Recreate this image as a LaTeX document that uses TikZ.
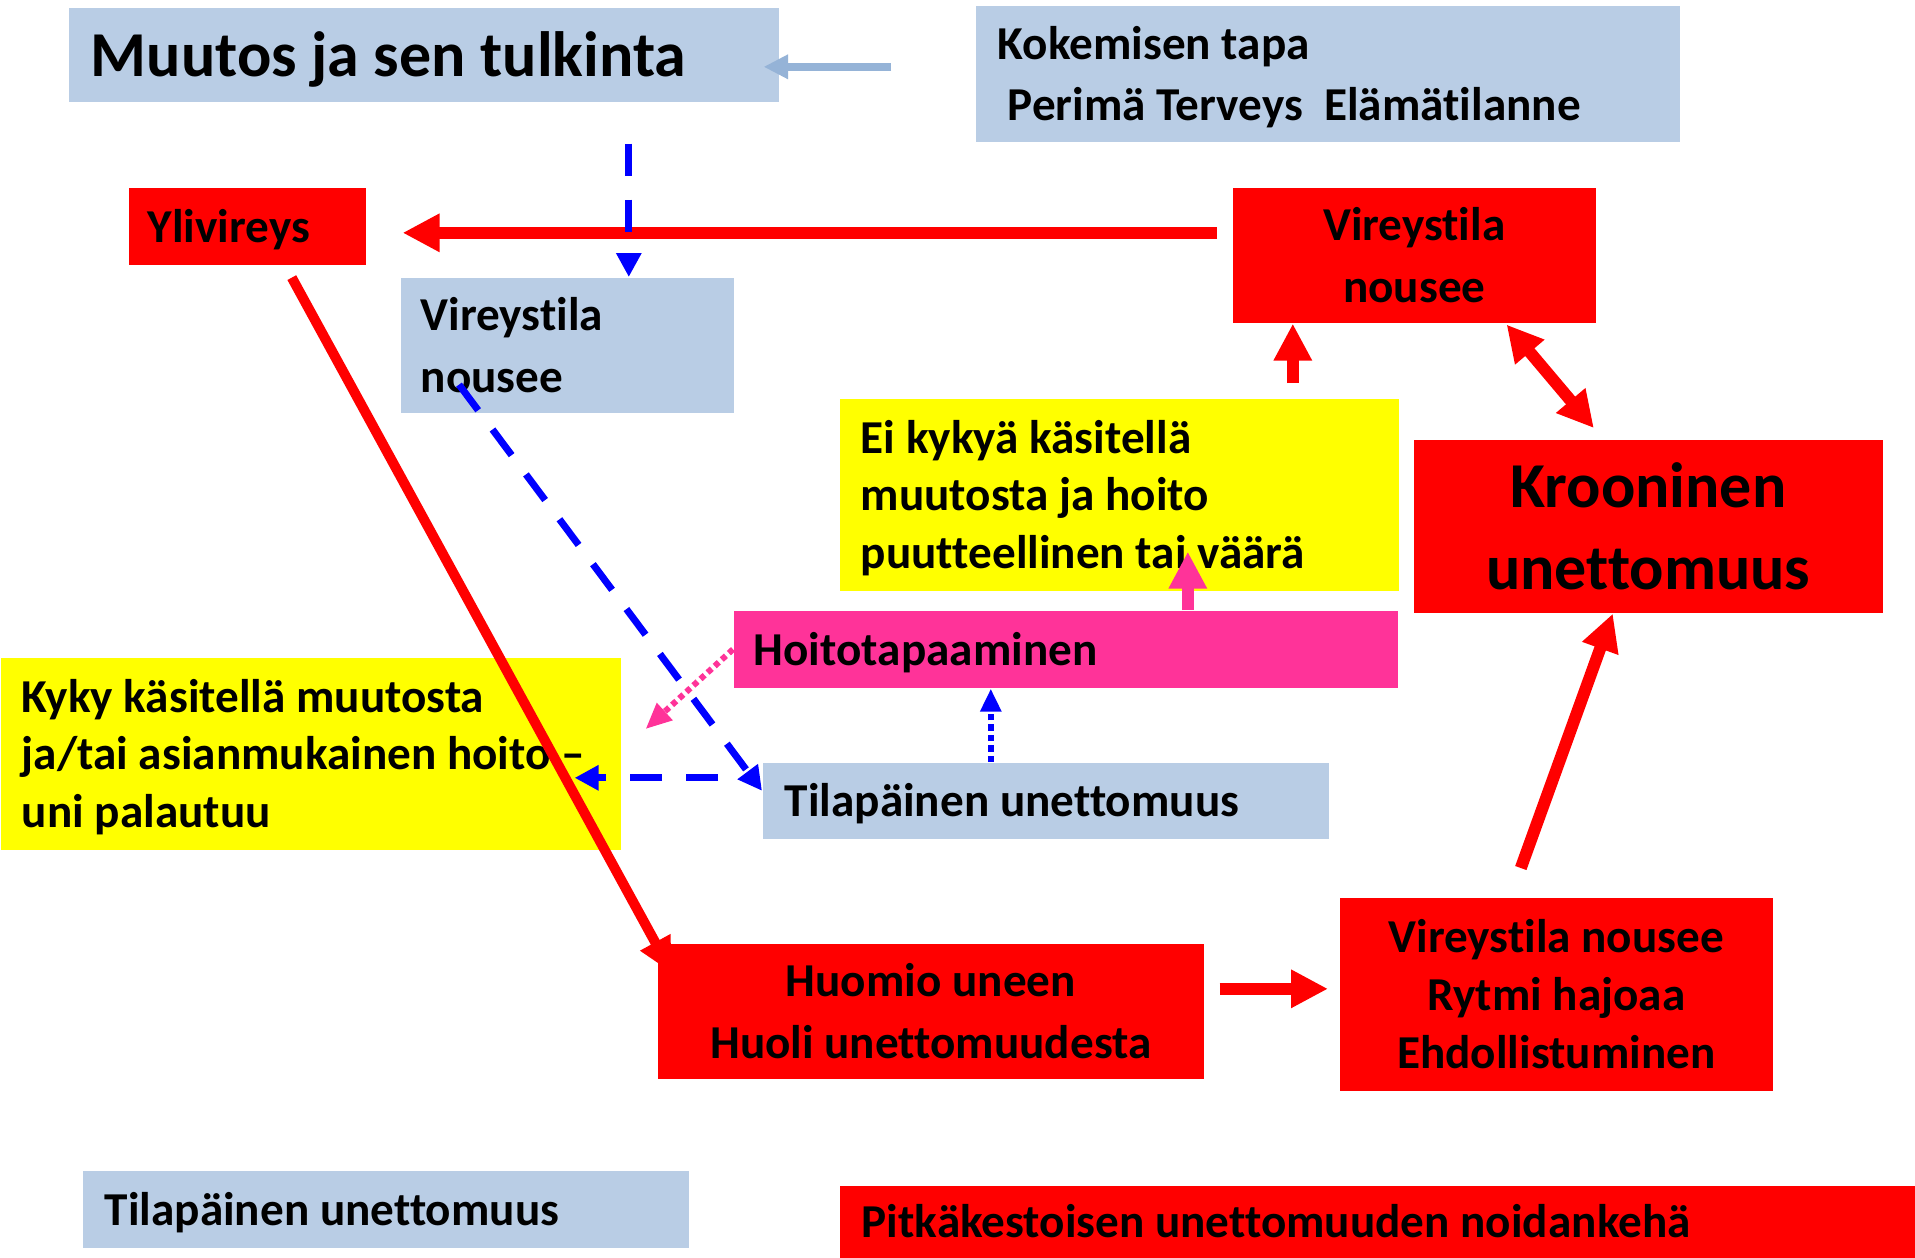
\documentclass[tikz,border=0pt]{standalone}
\usepackage{fontspec}
\setmainfont{Carlito}[Ligatures=NoCommon]
\usetikzlibrary{arrows.meta,calc}
\definecolor{lblue}{HTML}{B9CDE5}
\definecolor{arrblue}{HTML}{95B3D7}
\definecolor{pinkc}{HTML}{FF3399}
\definecolor{pureblue}{HTML}{0000FF}
\definecolor{purered}{HTML}{FF0000}
\definecolor{pureyellow}{HTML}{FFFF00}
\newcommand\linestrut{\vrule height 0.952em depth 0.269em width 0pt\relax}
\pgfdeclarelayer{front}
\pgfsetlayers{main,front}
\begin{document}
\begin{tikzpicture}[x=0.25pt,y=-0.25pt,
  bx/.style={rectangle, anchor=north west, inner ysep=0pt, font=\fontsize{11.8}{14.4}\selectfont\bfseries, text=black,
    execute at begin node=\linestrut, execute at end node=\linestrut},
  lb/.style={bx, fill=lblue},
  rd/.style={bx, fill=purered},
  yl/.style={bx, fill=pureyellow},
  pk/.style={bx, fill=pinkc},
  lft/.style={align=flush left},
  ctr/.style={inner xsep=2pt, align=flush center},
  big/.style={font=\fontsize{16}{19.5}\selectfont\bfseries},
  redarr/.style={draw=purered, line width=3pt, -{Triangle[length=9.25pt,width=9pt]}},
  reddbl/.style={draw=purered, line width=3pt, {Triangle[length=9pt,width=9pt]}-{Triangle[length=9pt,width=9pt]}},
  redthin/.style={draw=purered, line width=2.5pt, -{Triangle[length=8.75pt,width=8pt]}},
  lbarr/.style={draw=arrblue, line width=2pt, -{Triangle[length=6.1pt,width=5.75pt]}},
  bdash/.style={draw=pureblue, line width=1.75pt, dash pattern=on 8pt off 6pt, -{Triangle[length=6pt,width=6pt]}},
  bdot/.style={draw=pureblue, line width=1.5pt, dash pattern=on 1.6pt off 1pt, -{Triangle[length=5.75pt,width=5pt]}},
  pdot/.style={draw=pinkc, line width=1.5pt, dash pattern=on 1.4pt off 1pt, -{Triangle[length=6.5pt,width=5.5pt]}},
  parr/.style={draw=pinkc, line width=3pt, -{Triangle[length=9.25pt,width=9pt]}}
]
\fill[white] (0,0) rectangle (1915,1257);
\useasboundingbox (0,0) rectangle (1915,1257);

\node[lb, big, lft, minimum width=177.5pt, minimum height=23.5pt, inner xsep=5.5pt, text width=166.5pt] (muutos) at (68,7) {Muutos ja sen tulkinta};
\node[lb, lft, minimum width=176pt, minimum height=34pt, inner xsep=5.5pt, text width=165pt] (koke) at (975,5) {Kokemisen tapa\\\hspace*{2.5pt}Perimä Terveys\ \ Elämätilanne};
\node[rd, lft, minimum width=59.25pt, minimum height=19.25pt, inner xsep=4.75pt, text width=49.75pt] (yli) at (128,187) {Ylivireys};
\node[lb, lft, minimum width=83.25pt, minimum height=33.75pt, inner xsep=5pt, text width=73.25pt] (virB) at (400,277) {Vireystila\\nousee};
\node[rd, ctr, minimum width=90.75pt, minimum height=33.75pt, text width=86.75pt] (virR) at (1232,187) {Vireystila\\nousee};
\node[yl, lft, minimum width=139.75pt, minimum height=48pt, inner xsep=5.25pt, text width=129.25pt] (eikyky) at (839,398) {Ei kykyä käsitellä\\muutosta ja hoito\\puutteellinen tai väärä};
\node[rd, big, ctr, minimum width=117.25pt, minimum height=43.25pt, text width=113.25pt] (kroon) at (1413,439) {Krooninen\\unettomuus};
\node[pk, lft, minimum width=166pt, minimum height=19.25pt, inner xsep=5pt, text width=156pt] (hoito) at (733,610) {Hoitotapaaminen};
\node[lb, lft, minimum width=141.5pt, minimum height=19pt, inner xsep=5.5pt, text width=130.5pt] (tilaM) at (762,762) {Tilapäinen unettomuus};
\node[yl, lft, minimum width=155pt, minimum height=48pt, inner xsep=5.25pt, text width=144.5pt] (kyky) at (0,657) {Kyky käsitellä muutosta\\ja/tai~asianmukainen~hoito~–\\uni palautuu};
\begin{pgfonlayer}{front}
\node[rd, ctr, minimum width=136.5pt, minimum height=33.75pt, text width=132.5pt] (huomio) at (657,943) {Huomio uneen\\Huoli unettomuudesta};
\end{pgfonlayer}
\node[rd, ctr, minimum width=108.25pt, minimum height=48.25pt, text width=104.25pt] (rytmi) at (1339,897) {Vireystila nousee\\Rytmi hajoaa\\Ehdollistuminen};
\node[lb, lft, minimum width=151.5pt, minimum height=19.25pt, inner xsep=5.5pt, text width=140.5pt] (tilaB) at (82,1170) {Tilapäinen unettomuus};
\node[rd, lft, minimum width=269pt, minimum height=18pt, inner xsep=5.5pt, text width=258pt] (pitka) at (839,1185) {Pitkäkestoisen unettomuuden noidankehä};

% connectors
\draw[lbarr] ($(koke.west)+(-84,-7)$) -- ($(muutos.east)+(-16,12)$);
\draw[redarr] ($(virR.west)+(-15,-22.5)$) -- ($(yli.east)+(36,6.5)$);
\draw[bdash] ($(muutos.south)+(205,41)$) -- ($(virB.north)+(61.5,0)$);
\draw[bdash] ($(virB.south west)+(59,-29)$) -- ($(tilaM.west)+(0,-10)$);
\draw[bdash] ($(tilaM.west)+(-44,-23)$) -- ($(kyky.east)+(-47,24)$);
\draw[bdot] ($(tilaM.north)+(-55,0)$) -- ($(hoito.south)+(-75,0)$);
\draw[pdot] (hoito.west) -- ($(kyky.north east)+(24,72)$);
\draw[parr] ($(hoito.north)+(122,0)$) -- ($(eikyky.south)+(68.5,-40)$);
\draw[redarr] ($(eikyky.north)+(173.5,-15)$) -- ($(virR.south)+(-121.5,0)$);
\draw[reddbl] ($(virR.south east)+(-90,1)$) -- ($(kroon.north)+(-54.5,-11)$);
\draw[redthin] ($(yli.south)+(44.5,12)$) -- ($(huomio.north west)+(15,30)$);
\draw[redarr] ($(huomio.east)+(15,-22.5)$) -- ($(rytmi.west)+(-11,-5.5)$);
\draw[redarr] ($(rytmi.north)+(-35.5,-29)$) -- ($(kroon.south)+(-35.5,0)$);
\end{tikzpicture}
\end{document}
